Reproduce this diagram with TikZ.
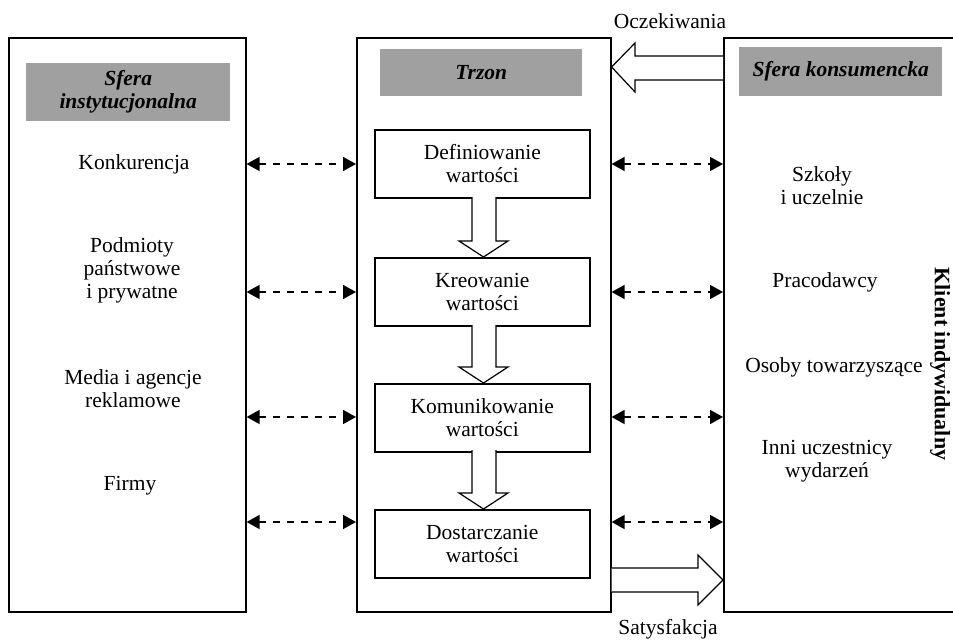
\documentclass[tikz,border=0pt]{standalone}
\usepackage{fontspec}
\setmainfont{Liberation Serif}
\usetikzlibrary{arrows.meta}
\definecolor{hdrgray}{RGB}{160,160,160}
\begin{document}
\begin{tikzpicture}[x=1pt,y=-1pt,
  frame/.style={draw, line width=1.6pt, inner sep=0pt, anchor=north west},
  hdr/.style={fill=hdrgray, inner sep=0pt, anchor=north west, align=center, font=\fontsize{21.5}{23}\selectfont\bfseries\itshape},
  stepbox/.style={draw, line width=1.6pt, inner sep=0pt, anchor=north west, minimum width=215pt, minimum height=68pt, align=center, font=\fontsize{21.5}{23}\selectfont},
  lbl/.style={align=center, inner sep=0pt, font=\fontsize{21.5}{23}\selectfont},
  dasharr/.style={line width=1.6pt, dash pattern=on 7pt off 7pt, {Triangle[length=13pt,width=14pt]}-{Triangle[length=13pt,width=14pt]}},
  block/.style={line width=1.2pt, fill=white}
]
\useasboundingbox (0,0) rectangle (953,640);
% frames
\node[frame, minimum width=237pt, minimum height=574pt] (L) at (8,37) {};
\node[frame, minimum width=254pt, minimum height=574pt] (M) at (356,37) {};
\node[frame, minimum width=260pt, minimum height=574pt] (R) at (723,37) {};
% headers
\node[hdr, minimum width=204pt, minimum height=58pt] (HL) at (26,63) {Sfera\\instytucjonalna};
\node[hdr, minimum width=202pt, minimum height=47pt] (HM) at (380,49) {Trzon};
\node[hdr, minimum width=203pt, minimum height=49pt] (HR) at (739,47) {Sfera konsumencka};
% step boxes
\node[stepbox] (S1) at (374,129) {Definiowanie\\wartości};
\node[stepbox] (S2) at (374,257) {Kreowanie\\wartości};
\node[stepbox] (S3) at (374,383) {Komunikowanie\\wartości};
\node[stepbox] (S4) at (374,509) {Dostarczanie\\wartości};
% hollow down arrows
\foreach \a/\b in {197/257,325/383,450/509}{
  \draw[block] (472,\a) -- (472,\b-16) -- (459,\b-16) -- (483.5,\b) -- (508,\b-16) -- (496,\b-16) -- (496,\a);
}
% Oczekiwania arrow
\draw[block] (R.west |- 0,56) -- (635,56) -- (635,43) -- (M.east |- 0,67) -- (635,92) -- (635,80) -- (R.west |- 0,80);
\node[lbl] (oc) at (670,21) {Oczekiwania};
% Satysfakcja arrow
\draw[block] (M.east |- 0,568) -- (698,568) -- (698,555) -- (R.west |- 0,580) -- (698,605) -- (698,592) -- (M.east |- 0,592);
\node[lbl] (sat) at (668,629) {Satysfakcja};
% dashed arrows
\foreach \y in {164,292,417,522}{
  \draw[dasharr] (L.east |- 0,\y) -- (M.west |- 0,\y);
  \draw[dasharr] (M.east |- 0,\y) -- (R.west |- 0,\y);
}
% left labels
\node[lbl] (l1) at (134,164) {Konkurencja};
\node[lbl] (l2) at (132,270) {Podmioty\\państwowe\\i prywatne};
\node[lbl] (l3) at (133,389) {Media i agencje\\reklamowe};
\node[lbl] (l4) at (130,486) {Firmy};
% right labels
\node[lbl] (r1) at (822,186) {Szkoły\\i uczelnie};
\node[lbl] (r2) at (825,282) {Pracodawcy};
\node[lbl] (r3) at (834,367) {Osoby towarzyszące};
\node[lbl] (r4) at (827,461) {Inni uczestnicy\\wydarzeń};
\node[lbl, rotate=-90, font=\fontsize{22}{23}\selectfont\bfseries] (kl) at (940,364) {Klient indywidualny};
\end{tikzpicture}
\end{document}
